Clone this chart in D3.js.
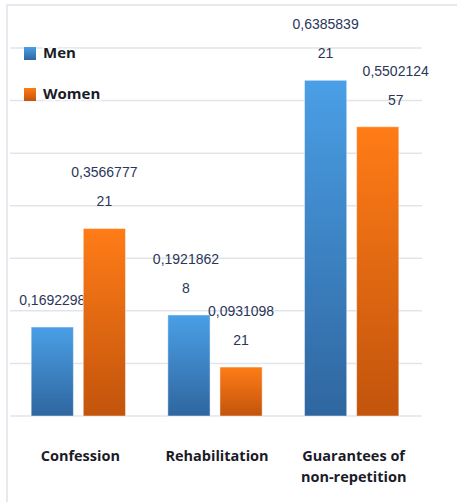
<!DOCTYPE html>
<html lang="en">
<head>
  <meta charset="UTF-8" />
  <script src="https://d3js.org/d3.v7.min.js"></script>
  <style>
    body { margin: 0; background: #fff; overflow: hidden; }
    svg { display: block; }
    .val { font-family: "Liberation Sans", Arial, sans-serif; font-size: 14px; fill: #2b3659; }
    .cat { font-family: "Open Sans", sans-serif; font-weight: 700; font-size: 14.5px; fill: #1b1b28; }
    .leg { font-family: "Open Sans", sans-serif; font-weight: 700; font-size: 15px; fill: #1b1b28; }
  </style>
</head>
<body>
  <svg width="457" height="502"></svg>
  <script>
    const categories = [["Confession"], ["Rehabilitation"], ["Guarantees of", "non-repetition"]];
    const seriesNames = ["Men", "Women"];
    const men = [0.1692298, 0.19218628, 0.638583921];
    const women = [0.356677721, 0.093109821, 0.550212457];
    const gridTicks = [0, 0.1, 0.2, 0.3, 0.4, 0.5, 0.6, 0.7];
    // horizontal nudges of value labels (px), like the original's placement
    const labelNudge = [[0, 0], [-3, 0], [0, 18]];

    const svg = d3.select("svg");
    const defs = svg.append("defs");

    const grads = [
      { id: "gMen", top: "#4a9fe6", bottom: "#2f669f" },
      { id: "gWomen", top: "#ff7c17", bottom: "#c2540c" }
    ];
    grads.forEach(g => {
      const lg = defs.append("linearGradient").attr("id", g.id)
        .attr("x1", 0).attr("y1", 0).attr("x2", 0).attr("y2", 1);
      lg.append("stop").attr("offset", "0%").attr("stop-color", g.top);
      lg.append("stop").attr("offset", "100%").attr("stop-color", g.bottom);
    });

    // frame
    svg.append("path")
      .attr("d", "M7,503 L7,5 L458,5")
      .attr("fill", "none")
      .attr("stroke", "#e6e9ee")
      .attr("stroke-width", 2);

    const y = d3.scaleLinear().domain([0, 0.7]).range([416, 48]);
    const x0 = d3.scaleBand().domain(d3.range(categories.length)).range([10, 420])
      .paddingInner(0.31).paddingOuter(0.155);
    const x1 = d3.scaleBand().domain(d3.range(seriesNames.length)).range([0, x0.bandwidth()])
      .paddingInner(0.19);

    svg.append("g").selectAll("line")
      .data(gridTicks)
      .join("line")
      .attr("x1", 10).attr("x2", 422)
      .attr("y1", d => y(d)).attr("y2", d => y(d))
      .attr("stroke", "#e1e5eb")
      .attr("stroke-width", 1.5);

    const series = [men, women];
    series.forEach((vals, s) => {
      const g = svg.append("g");
      g.selectAll("rect")
        .data(vals)
        .join("rect")
        .attr("x", (d, i) => x0(i) + x1(s))
        .attr("y", d => y(d))
        .attr("width", x1.bandwidth())
        .attr("height", d => y(0) - y(d))
        .attr("fill", `url(#${grads[s].id})`)
        .attr("stroke", "rgba(255,255,255,0.45)")
        .attr("stroke-width", 1);

      vals.forEach((v, i) => {
        const str = String(v).replace(".", ",");
        const lines = [];
        for (let k = 0; k < str.length; k += 9) lines.push(str.slice(k, k + 9));
        const cx = x0(i) + x1(s) + x1.bandwidth() / 2 + labelNudge[i][s];
        const top = y(v);
        lines.forEach((ln, k) => {
          const cy = top - 27 - (lines.length - 1 - k) * 29;
          g.append("text")
            .attr("class", "val")
            .attr("x", cx)
            .attr("y", cy + 5)
            .attr("text-anchor", "middle")
            .text(ln);
        });
      });
    });

    // category labels
    categories.forEach((lines, i) => {
      const cx = x0(i) + x0.bandwidth() / 2 + 2;
      lines.forEach((ln, k) => {
        svg.append("text")
          .attr("class", "cat")
          .attr("x", cx)
          .attr("y", 461 + k * 21)
          .attr("text-anchor", "middle")
          .text(ln);
      });
    });

    // legend
    const legend = svg.append("g");
    seriesNames.forEach((name, s) => {
      const ly = 47 + s * 41;
      legend.append("rect")
        .attr("x", 24).attr("y", ly)
        .attr("width", 12).attr("height", 13)
        .attr("fill", `url(#${grads[s].id})`);
      legend.append("text")
        .attr("class", "leg")
        .attr("x", 43).attr("y", ly + 11)
        .attr("stroke", "#fff").attr("stroke-width", 3)
        .attr("paint-order", "stroke")
        .text(name);
    });
  </script>
</body>
</html>
